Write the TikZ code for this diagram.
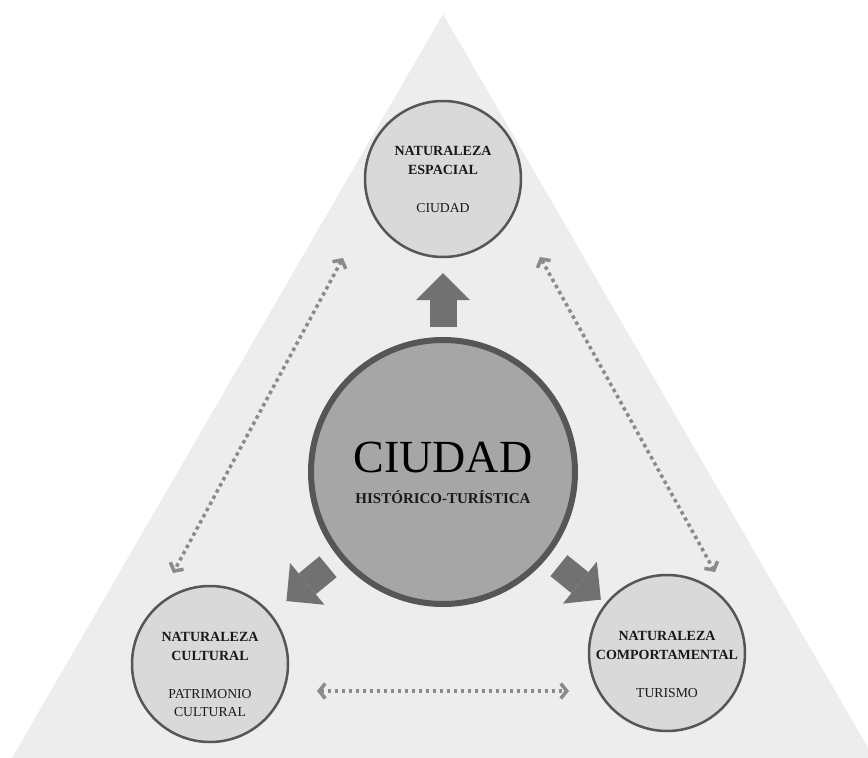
\documentclass[tikz,border=0pt]{standalone}
\usepackage{fontspec}
\setmainfont{Liberation Serif}
\usepackage{tikz}
\usetikzlibrary{arrows.meta}
\usetikzlibrary{calc}

\definecolor{fondo}{HTML}{EDEDED}
\definecolor{borde}{HTML}{565656}
\definecolor{circulo}{HTML}{D9D9D9}
\definecolor{centro}{HTML}{A6A6A6}
\definecolor{flecha}{HTML}{717171}
\definecolor{puntos}{HTML}{8A8A8A}

\newcommand{\cab}{\fontsize{14}{18.5}\selectfont\bfseries}
\newcommand{\sub}{\fontsize{13.7}{18.5}\selectfont\mdseries}

\tikzset{
  circ/.style={circle, draw=borde, line width=2.5pt, fill=circulo, minimum size=156pt, inner sep=0pt},
  txt/.style={align=center, font=\fontsize{13.7}{18.5}\selectfont, inner sep=0pt, text=black!90},
  gorda/.style={draw=flecha, line width=27pt, -{Triangle[width=54pt, length=27pt, line width=0pt]}},
  punteada/.style={draw=puntos, line width=3.5pt, dash pattern=on 3.5pt off 3.5pt,
    {Straight Barb[length=6pt, width=15pt]}-{Straight Barb[length=6pt, width=15pt]}}
}

\begin{document}
\begin{tikzpicture}[x=1pt, y=-1pt]
            \useasboundingbox (0,0) rectangle (868,758);
            \clip (0,0) rectangle (868,758);
            \fill[fondo] (443,14) -- (12,758) -- (874,758) -- cycle;

            \coordinate (p1) at (343,258);
            \coordinate (p2) at (173,573);
            \coordinate (p3) at (540,257);
            \coordinate (p4) at (715,572);
            \coordinate (p5) at (317,691);
            \coordinate (p6) at (569,691);
            \draw[punteada] (p1) -- (p2);
            \draw[punteada] (p3) -- (p4);
            \draw[punteada] (p5) -- (p6);

            \node[circ] (esp) at (443,179) {};
            \node[circ] (cul) at (210,664) {};
            \node[circ] (com) at (667,653) {};
            \node[circle, draw=borde, line width=6pt, fill=centro, minimum size=264pt, inner sep=0pt] (ciu) at (443,472) {};

            \draw[gorda, shorten <=145pt, shorten >=94pt] (ciu.center) -- (esp.center);
            \draw[gorda, shorten <=149pt, shorten >=99pt] (ciu.center) -- (cul.center);
            \draw[gorda, shorten <=149pt, shorten >=85pt] (ciu.center) -- (com.center);

            \node[txt] (esptxt) at (443,179.5) {\cab NATURALEZA\\\cab ESPACIAL\\[19.5pt]\sub CIUDAD};
            \node[txt] (cultxt) at (210,674.5) {\cab NATURALEZA\\\cab CULTURAL\\[19.5pt]\sub PATRIMONIO\\\sub CULTURAL};
            \node[txt] (comtxt) at (667,664.5) {\cab NATURALEZA\\\cab COMPORTAMENTAL\\[19.5pt]\sub TURISMO};

            \node[anchor=base, font=\fontsize{46}{46}\selectfont, inner sep=0pt] (tit) at (443,472) {CIUDAD};
            \node[anchor=base, font=\fontsize{15}{18}\selectfont\bfseries, inner sep=0pt, text=black!90] (subtit) at (443,503) {HISTÓRICO-TURÍSTICA};
        \end{tikzpicture}
\end{document}
